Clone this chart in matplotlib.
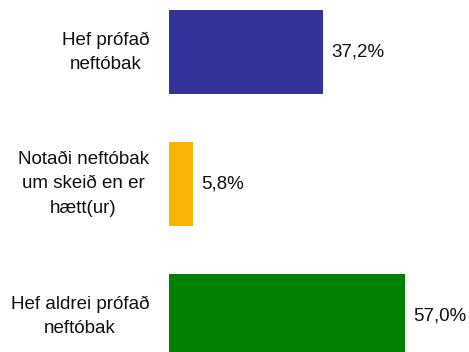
import matplotlib.pyplot as plt

# Neftóbaksnotkun
categories = ["Hef prófað\nneftóbak",
              "Notaði neftóbak\num skeið en er\nhætt(ur)",
              "Hef aldrei prófað\nneftóbak"]
values = [37.2, 5.8, 57.0]
value_labels = ["37,2%", "5,8%", "57,0%"]
colors = ["#333399", "#F5B406", "#008000"]

plt.rcParams["font.family"] = ["Liberation Sans", "DejaVu Sans"]

fig = plt.figure(figsize=(4.69, 3.52), dpi=100)
ax = fig.add_axes([0, 0, 1, 1])

pos = range(len(categories))
ax.barh(pos, values, height=0.636, color=colors)

for i, (cat, v, lab) in enumerate(zip(categories, values, value_labels)):
    ax.text(-4.8, i, cat, ha="right", va="center", multialignment="center",
            fontsize=13.5, linespacing=1.55, color="#111111")
    ax.text(v + 1.9, i, lab, ha="left", va="center", fontsize=13.5,
            color="#111111")

ax.set_xlim(-40.7, 72.3)
ax.set_ylim(2.273, -0.394)
ax.axis("off")

fig.savefig("out.png", dpi=100)
